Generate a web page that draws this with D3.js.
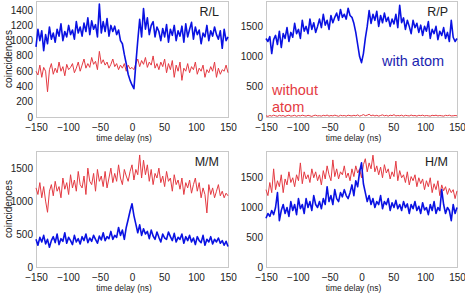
<!DOCTYPE html>
<html>
<head>
<meta charset="utf-8">
<script src="https://cdn.jsdelivr.net/npm/d3@7"></script>
<style>
  body { margin: 0; background: #fff; }
  svg text { font-family: "Liberation Sans", Arial, Helvetica, sans-serif; fill: #222; }
</style>
</head>
<body>
<svg id="chart" width="465" height="295"></svg>
<script>
// time bins run from -150 to 150 ns, one value per bin
var timeRange = [-150, 150];
var timeTicks = [-150, -100, -50, 0, 50, 100, 150];

// R/L
var rlBlue = [920,1150,1000,1130,870,1080,960,1180,1020,1100,980,1150,1060,1220,1000,1120,1050,1200,1080,1140,
  1020,1250,1100,1180,1060,1230,1120,1300,1080,1260,1150,1210,1050,1480,1100,1250,1120,1290,1060,1200,
  1120,1190,1080,1140,1000,960,820,700,560,480,420,370,700,1000,1280,1050,1420,1150,1300,1080,
  1200,1250,1050,1180,1120,1000,1160,1050,1210,980,1150,1070,1200,1000,1130,1060,1190,980,1220,1050,
  1150,1240,1020,1180,1080,1140,960,1100,1050,1200,1000,1130,1060,1180,1080,1020,1130,900,1150,1000,1050];
var rlRed = [600,550,680,520,650,600,330,620,700,560,640,580,720,600,660,540,690,620,650,700,
  580,640,720,600,680,760,640,700,650,780,690,730,620,860,700,750,680,720,640,690,
  760,660,700,620,680,640,700,600,680,630,650,620,700,760,660,740,690,780,650,720,
  680,800,640,700,620,720,660,760,580,700,620,740,520,680,600,720,480,640,600,700,
  580,660,620,720,560,640,600,680,520,620,580,660,600,720,520,640,560,620,600,680,580];

// R/P
var rpBlue = [1300,1250,1330,1050,1280,1350,1200,1420,1150,1380,1300,1480,1250,1400,1320,1550,1380,1450,1300,1600,
  1420,1500,1380,1620,1450,1560,1400,1500,1620,1480,1700,1520,1600,1450,1680,1560,1650,1720,1600,1780,
  1650,1700,1620,1800,1680,1650,1550,1400,1200,1000,900,1050,1300,1500,1760,1550,1700,1600,1750,1500,
  1680,1560,1720,1580,1650,1500,1620,1540,1700,1480,1850,1560,1640,1450,1600,1500,1380,1600,1480,1550,
  1400,1520,1350,1500,1420,1580,1300,1450,1380,1500,1280,1420,1350,1480,1300,1400,1250,1600,1320,1250,1300];
var rpRed = [20,10,25,15,30,20,12,28,18,25,10,22,30,15,20,28,12,25,18,30,
  22,15,28,20,10,25,30,18,22,15,28,20,32,15,25,18,30,22,12,28,
  20,25,15,30,22,18,28,20,35,15,25,40,22,30,45,20,32,18,28,15,
  25,35,20,28,15,30,22,38,18,25,20,30,15,28,22,18,32,20,25,15,
  28,22,30,18,25,20,15,28,22,30,18,25,20,15,28,22,30,18,20,25,20];

// M/M
var mmRed = [1200,1100,1280,1050,1220,1000,830,1150,1250,1080,1300,1150,1220,1050,1350,1180,1280,1100,1400,1200,
  1320,1150,1450,1250,1200,1380,1100,1500,1300,1250,1420,1150,1480,1300,1380,1220,1450,1200,1350,1500,
  1280,1420,1300,1550,1350,1250,1480,1380,1300,1450,1550,1320,1480,1400,1700,1350,1620,1400,1550,1300,
  1480,1250,1420,1350,1500,1280,1380,1220,1450,1300,1350,1150,1400,1250,1320,1180,1350,1100,1280,1200,
  1320,1120,1250,1350,1150,1280,1050,1200,1100,820,1250,1100,1200,1050,1150,1250,1080,1150,1050,1120,1080];
var mmBlue = [420,330,450,380,480,350,420,300,400,460,370,500,340,430,390,520,360,450,400,340,
  480,380,430,350,460,400,500,370,440,390,480,420,360,470,410,520,400,460,430,540,
  420,480,450,600,480,560,420,600,720,850,960,780,650,520,640,480,580,500,540,430,
  560,470,420,530,450,380,500,440,420,530,460,400,510,380,450,420,500,360,460,400,
  480,380,440,340,460,400,370,480,330,420,380,460,350,420,380,440,360,400,330,390,310];

// H/M
var hmRed = [1300,1200,1420,1250,1650,1300,1450,1350,1550,1250,1480,1380,1600,1420,1500,1350,1550,1450,1750,1400,
  1600,1480,1550,1420,1650,1500,1600,1450,1550,1380,1620,1480,1700,1550,1450,1800,1520,1650,1480,1600,
  1550,1700,1500,1580,1450,1650,1520,1700,1580,1650,1500,1720,1820,1600,1750,1650,1880,1600,1700,1550,
  1680,1500,1720,1580,1650,1480,1600,1520,1780,1450,1620,1500,1550,1420,1600,1380,1520,1450,1550,1350,
  1500,1400,1480,1300,1450,1350,1500,1250,1400,1300,1450,1200,1380,1280,1350,1220,1320,1250,1300,1150,1280];
var hmBlue = [820,900,850,950,880,1000,1250,780,950,1050,900,1000,850,1100,950,1050,880,1150,980,1050,
  900,1150,1000,1100,950,1200,1050,1000,1100,980,1150,1050,1350,1100,1200,1050,1300,1150,1100,1250,
  1180,1300,1200,1150,1250,1380,1200,1450,1350,1600,1750,1400,1250,1100,1200,1050,1150,1000,1100,1050,
  1200,980,1100,1050,1150,950,1080,1000,1120,980,1050,950,1100,1000,1060,900,1050,980,1100,950,
  1020,900,1080,960,1000,880,1050,950,1100,900,1000,950,1300,1050,900,1000,950,780,1050,900,1000];

var panelLabels = ["R/L", "R/P", "M/M", "H/M"];
var yTicks = [[0,200,400,600,800,1000,1200,1400], [0,500,1000,1500], [0,500,1000,1500], [0,500,1000,1500]];
var yMax = [1520, 1920, 1760, 1950];

var blue = "#0a12e2", red = "#e43a42";

var panels = [
  {x0: 36,  x1: 228, y0: 1,   y1: 117, red: rlRed, blue: rlBlue, yTitle: true},
  {x0: 266, x1: 457, y0: 1,   y1: 117, red: rpRed, blue: rpBlue, yTitle: false},
  {x0: 36,  x1: 228, y0: 151, y1: 267, red: mmRed, blue: mmBlue, yTitle: true},
  {x0: 266, x1: 457, y0: 151, y1: 267, red: hmRed, blue: hmBlue, yTitle: false}
];

var svg = d3.select("#chart");

panels.forEach(function(p, k){
  var x = d3.scaleLinear().domain(timeRange).range([p.x0, p.x1]);
  var y = d3.scaleLinear().domain([0, yMax[k]]).range([p.y1, p.y0]);
  var g = svg.append("g");

  g.append("rect")
    .attr("x", p.x0 + 0.5).attr("y", p.y0 + 0.5)
    .attr("width", p.x1 - p.x0).attr("height", p.y1 - p.y0)
    .attr("fill", "none").attr("stroke", "#c8c8c8").attr("stroke-width", 1);

  // series -> line, x from bin index
  function line(vals){
    var n = vals.length;
    return d3.line()
      .x(function(d, i){ return x(timeRange[0] + (timeRange[1] - timeRange[0]) * i / (n - 1)); })
      .y(function(d){ return y(d); })(vals);
  }
  g.append("path").attr("d", line(p.red))
    .attr("fill", "none").attr("stroke", red).attr("stroke-width", 1).attr("stroke-linejoin", "round");
  g.append("path").attr("d", line(p.blue))
    .attr("fill", "none").attr("stroke", blue).attr("stroke-width", 1.6).attr("stroke-linejoin", "round");

  var xa = g.append("g").attr("transform", "translate(0," + p.y1 + ")")
    .call(d3.axisBottom(x).tickValues(timeTicks).tickSize(0).tickPadding(6)
      .tickFormat(function(d){ return d < 0 ? "\u2212" + (-d) : d; }));
  xa.select(".domain").remove();
  xa.selectAll("text").attr("font-size", 10).attr("dy", "0.78em").style("font-family", null);

  var ya = g.append("g").attr("transform", "translate(" + p.x0 + ",0)")
    .call(d3.axisLeft(y).tickValues(yTicks[k]).tickSize(0).tickPadding(3).tickFormat(d3.format("d")));
  ya.select(".domain").remove();
  ya.selectAll("text").attr("font-size", 10).attr("dy", "0.3em").style("font-family", null);

  g.append("text")
    .attr("x", (p.x0 + p.x1) / 2 - 8).attr("y", p.y1 + 24)
    .attr("text-anchor", "middle").attr("font-size", 8.5)
    .text("time delay (ns)");

  if (p.yTitle) {
    g.append("text")
      .attr("transform", "translate(12," + ((p.y0 + p.y1) / 2) + ") rotate(-90)")
      .attr("text-anchor", "middle").attr("font-size", 10)
      .text("coincidences");
  }

  g.append("text")
    .attr("x", p.x1 - 9).attr("y", p.y0 + 15)
    .attr("text-anchor", "end").attr("font-size", 12.5)
    .text(panelLabels[k]);
});

// annotations in R/P
svg.append("text").attr("x", 382).attr("y", 66).attr("font-size", 14.5)
  .style("fill", "#1b24b0").text("with atom");
svg.append("text").attr("x", 272).attr("y", 95).attr("font-size", 14.5)
  .style("fill", red).text("without");
svg.append("text").attr("x", 272).attr("y", 112).attr("font-size", 14.5)
  .style("fill", red).text("atom");
</script>
</body>
</html>
